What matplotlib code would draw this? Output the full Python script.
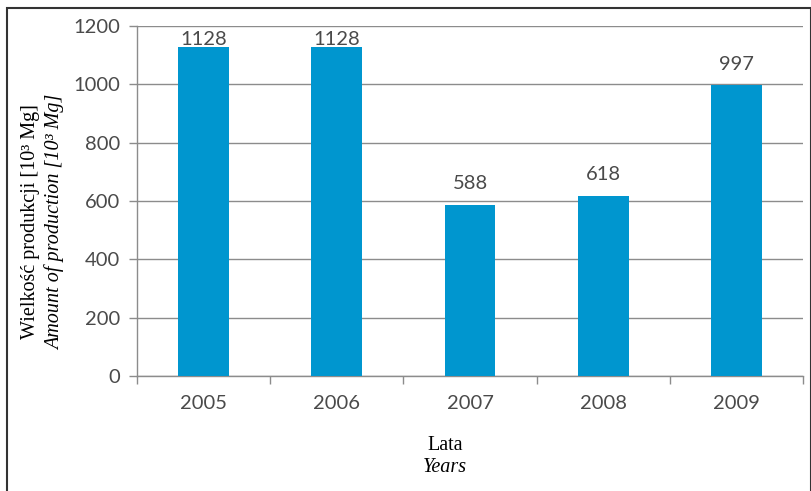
import matplotlib.pyplot as plt
from matplotlib.patches import Rectangle

# Chart data
years = ['2005', '2006', '2007', '2008', '2009']
production = [1128, 1128, 588, 618, 997]
y_ticks = [0, 200, 400, 600, 800, 1000, 1200]

bar_color = '#0096CF'
grid_color = '#8C8C8C'
text_color = '#4A4A4A'
label_font = 'Lato'
title_font = 'Liberation Serif'

fig = plt.figure(figsize=(8.12, 4.91), dpi=100)
ax = fig.add_axes([0.1687, 0.2342, 0.8203, 0.7128])

x = list(range(len(years)))
ax.bar(x, production, width=0.38, color=bar_color, zorder=3)

# Value labels above bars, kept inside the plot area
for xi, v in zip(x, production):
    ax.text(xi, min(v + 72, 1155), str(v), ha='center', va='center',
            fontsize=14.5, family=label_font, color=text_color, zorder=4)

ax.set_xlim(-0.5, len(years) - 0.5)
ax.set_ylim(0, 1200)
ax.set_yticks(y_ticks)
ax.set_yticklabels([str(t) for t in y_ticks], family=label_font, fontsize=14.5, color=text_color)
ax.yaxis.grid(True, color=grid_color, linewidth=1.0, zorder=0)

# Category labels centred, tick marks on category boundaries
ax.set_xticks(x)
ax.set_xticklabels(years, family=label_font, fontsize=14.5, color=text_color)
ax.set_xticks([i - 0.5 for i in range(len(years) + 1)], minor=True)
ax.tick_params(axis='x', which='major', length=0, pad=14)
ax.tick_params(axis='x', which='minor', length=6, color=grid_color, width=1.0)
ax.tick_params(axis='y', length=6, color=grid_color, width=1.0, pad=6)

for side in ['top', 'right']:
    ax.spines[side].set_visible(False)
for side in ['left', 'bottom']:
    ax.spines[side].set_color(grid_color)
    ax.spines[side].set_linewidth(1.0)

# Axis titles (Polish / English)
fig.text(31 / 812, 1 - 222 / 491, 'Wielkość produkcji [10³ Mg]', rotation=90,
         ha='center', va='center', family=title_font, fontsize=14.5, color='black')
fig.text(55 / 812, 1 - 222 / 491, 'Amount of production [10³ Mg]', rotation=90,
         ha='center', va='center', family=title_font, fontsize=14.5, style='italic', color='black')
fig.text(445 / 812, 1 - 445 / 491, 'Lata', ha='center', va='center',
         family=title_font, fontsize=14.5, color='black')
fig.text(445 / 812, 1 - 468 / 491, 'Years', ha='center', va='center',
         family=title_font, fontsize=14.5, style='italic', color='black')

# Outer frame
fig.patches.append(Rectangle((7 / 812, -0.01), 804 / 812, 1 - 8 / 491 + 0.01,
                             transform=fig.transFigure, fill=False,
                             edgecolor='#333333', linewidth=1.5))

fig.savefig('out.png', dpi=100)
